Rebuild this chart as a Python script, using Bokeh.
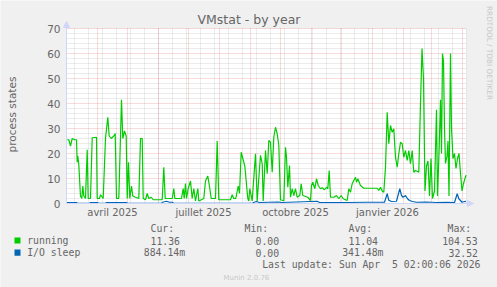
import math
import pandas as pd
from bokeh.plotting import figure
from bokeh.models import (Range1d, LinearAxis, FixedTicker, Label, BoxAnnotation,
                          Arrow, NormalHead)
from bokeh.embed import file_html
from bokeh.resources import INLINE

# ---------------- data ----------------
start_date = "2025-03-01"
end_date = "2026-04-05"

# day offsets from start_date
running_day = [0.7, 2.3, 4, 5.7, 8, 10, 10.7, 11.3, 12.3, 14, 15.3, 16.3, 17.3, 19, 20.7, 21.7, 24,
               25.7, 30, 30.7, 33, 34, 36.7, 39, 41.3, 42.7, 44.7, 47.3, 48.7, 50, 52.3, 55, 56.3,
               58, 59.7, 60.7, 62, 63.3, 65, 66.3, 69, 72.3, 74, 75.7, 76.7, 79, 80.7, 82.3, 84.7,
               86.7, 95.7, 97.3, 98.7, 105.7, 107.3, 108.3, 115, 116.7, 117.7, 119, 120, 121.7,
               124, 125.7, 127.3, 129, 131.3, 132.3, 137.3, 139, 141.3, 143.3, 144.7, 149, 150.7,
               152.3, 164, 165.7, 167.3, 169.3, 171.7, 173, 174.7, 176.3, 178.3, 181.3, 182.3,
               183.3, 185.7, 189, 190.7, 192.3, 194, 195.7, 196.7, 199, 200.7, 202.3, 204, 205.7,
               207.3, 209, 210.7, 212.3, 214, 217.3, 219, 220, 221.3, 223, 224, 225.7, 227.3, 229,
               230.7, 233.3, 234.7, 236.3, 241.3, 244, 245, 246.3, 248.3, 250, 251.7, 254, 255.7,
               258, 260, 261.3, 262.7, 264, 267.3, 270, 272.3, 274.7, 276.7, 280.7, 282.3, 284,
               285.7, 287.3, 289, 290, 291.3, 294, 297.3, 310.7, 312.3, 314, 315.7, 317.3, 319,
               320.7, 322.3, 324, 325.7, 327.3, 329, 330.7, 332.3, 334, 335.7, 337.3, 339, 340.7,
               342.3, 344, 345.7, 347.3, 349, 352.3, 354, 355.5, 357, 358.5, 360, 361.5, 363,
               364.5, 366, 368, 370, 371, 372.5, 374, 375, 376, 377, 378, 379, 380.5, 381.5, 382.5,
               384, 385, 386.5, 388, 389.5, 391, 392.5, 394, 395.5, 397, 399.5]
running = [25.5, 25.5, 23, 26, 25.5, 25.5, 16.5, 19, 15.5, 3, 2, 7, 3, 2, 21.5, 2, 2,
           26.3, 26.5, 2, 2, 3.5, 2, 26, 34.5, 27, 26, 27, 28, 2, 2, 41.5, 26,
           29, 27, 2, 16.5, 2, 7, 3, 2.5, 2, 26, 26, 2, 1.5, 4, 2, 2.5,
           1.5, 1.5, 14.5, 2, 2, 6, 2, 2, 6, 2, 8, 2, 6,
           9, 2, 6, 1, 6, 1, 2, 9, 11, 6, 2, 2, 25,
           1.5, 1.5, 3.5, 2, 2, 7, 4, 20.5, 18, 15, 2, 1,
           6, 1, 19.9, 1, 10, 19.3, 15.9, 1, 21.2, 11.9, 25.2, 24.5, 12.5,
           26.5, 30.5, 27.9, 23.3, 1.5, 1.1, 22.5, 18.5, 6.5, 15.2, 2.5, 5.9, 3.2, 5.9,
           2.5, 3.2, 7.9, 3.2, 2.5, 1.2, 7.2, 8.5, 5.9, 9.9, 7.2, 5.9, 6.3,
           5.5, 6.5, 5.9, 13.2, 2.5, 2.5, 3.2, 1.9, 3.2, 1.9, 1.2, 5.9, 4.5,
           7.9, 9.2, 10.5, 8.5, 9.9, 7.2, 6.1, 6.1, 5.2, 6.5, 5, 4.5, 14.5,
           36.5, 23.9, 31.2, 28.5, 29.9, 18.5, 14.5, 19.9, 24.5, 23.9, 18.5, 21.2, 17.2,
           21.2, 15.9, 21.2, 12.5, 13.2, 12.5, 40, 62, 50, 5, 15, 17, 3,
           18, 2, 5, 37.5, 3, 20, 41.5, 20, 60, 57, 30, 16, 19, 25, 3,
           60, 30, 18, 20, 14, 18, 20, 12, 5, 8, 11.36]

io_day = [0, 10, 11, 23, 24, 31, 32, 39, 40, 60, 61, 95, 96, 100, 103, 106, 107, 186, 187,
          190, 193, 212, 215, 250.7, 253, 280, 300, 318, 320.7, 322.3, 325, 330, 333.3, 335,
          336.5, 339, 341, 343, 346, 350, 360, 370, 380, 388, 390.7, 392.3, 394, 395.5, 397,
          399.5]
io_sleep = [0.4, 0.4, 0.05, 0.05, 0.4, 0.4, 0.05, 0.05, 0.4, 0.4, 0.05, 0.05, 0.5, 0.9, 0.5,
            0.5, 0.05, 0.05, 0.4, 0.8, 0.4, 0.6, 0.4, 0.9, 0.4, 0.4, 0.5, 0.5, 3.9, 1.3, 0.8,
            0.9, 5.9, 3.2, 2.5, 3.2, 1.9, 1.2, 0.8, 0.5, 0.6, 0.4, 0.5, 0.4, 3.9, 1.9, 1.2, 0.5,
            0.7, 0.884]

y_ticks = [0, 10, 20, 30, 40, 50, 60, 70]
x_label_dates = ["2025-04-16", "2025-07-16", "2025-10-16", "2026-01-16"]
x_labels = ["avril 2025", "juillet 2025", "octobre 2025", "janvier 2026"]

series_names = ["running", "I/O sleep"]
series_colors = ["#00CC00", "#0066B3"]
cur_vals = ["11.36", "884.14m"]
min_vals = ["0.00", "0.00"]
avg_vals = ["11.04", "341.48m"]
max_vals = ["104.53", "32.52"]

title_text = "VMstat - by year"
y_title = "process states"
# second space is a no-break space so the SVG keeps the double gap
last_update = "Last update: Sun Apr \u00a05 02:00:06 2026"

# ---------------- layout helpers ----------------
t0 = pd.Timestamp(start_date)
def day_of(d):
    return (pd.Timestamp(d) - t0).days

span = day_of(end_date)           # 400 days
y_top = y_ticks[-1]

W, H = 497, 287
LEFT_PX, ZERO_PX, PX_PER_UNIT = 66, 203, 2.5   # plot area placement in the page

def X(px):   # page x pixel -> data x (days)
    return px - LEFT_PX

def Y(py):   # page y pixel -> data y
    return (ZERO_PX - py) / PX_PER_UNIT

FONT = "#666666"
AXIS = "#CFD6F8"

p = figure(width=W, height=H, output_backend="svg", toolbar_location=None,
           x_range=Range1d(X(0), X(W)), y_range=Range1d(Y(H), Y(0)),
           x_axis_type=None, y_axis_type=None, title=None, min_border=0)
p.background_fill_color = "#F0F0F0"
p.border_fill_color = "#F0F0F0"
p.outline_line_color = None

# white canvas
p.add_layout(BoxAnnotation(left=0, right=span, bottom=0, top=y_top, fill_color="white",
                           fill_alpha=1, line_color=None, level="underlay"))

# grid lines
minor_v = [day_of(d) for d in pd.date_range("2025-03-09", end_date, freq="14D")]
major_v = [day_of(d) for d in pd.date_range("2025-04-01", end_date, freq="MS")]
minor_h = [v for v in range(2, y_top + 1, 2) if v % 10]
major_h = [v for v in y_ticks if v > 0]

GRID = "#8F8F8F"
MGRID = "#DE4F4F"
p.segment(x0=minor_v, x1=minor_v, y0=[0] * len(minor_v), y1=[y_top] * len(minor_v),
          line_color=GRID, line_alpha=0.35, line_width=1, line_dash="1 1")
p.segment(x0=[0] * len(minor_h), x1=[span] * len(minor_h), y0=minor_h, y1=minor_h,
          line_color=GRID, line_alpha=0.35, line_width=1, line_dash="1 1")
p.segment(x0=major_v, x1=major_v, y0=[0] * len(major_v), y1=[y_top] * len(major_v),
          line_color=MGRID, line_alpha=0.4, line_width=1, line_dash="1 1")
p.segment(x0=[0] * len(major_h), x1=[span] * len(major_h), y0=major_h, y1=major_h,
          line_color=MGRID, line_alpha=0.4, line_width=1, line_dash="1 1")

# data
p.line(running_day, running, line_color=series_colors[0], line_width=1.2)
p.line(io_day, io_sleep, line_color=series_colors[1], line_width=1.2)

# axis lines with arrows
p.add_layout(Arrow(x_start=0, y_start=0, x_end=X(473), y_end=0, line_color=AXIS, line_width=1,
                   end=NormalHead(size=6, fill_color=AXIS, line_color=AXIS)))
p.add_layout(Arrow(x_start=0, y_start=0, x_end=0, y_end=Y(21), line_color=AXIS, line_width=1,
                   end=NormalHead(size=6, fill_color=AXIS, line_color=AXIS)))

# tick labels (axes pinned at the plot origin)
yax = LinearAxis(fixed_location=0, ticker=FixedTicker(ticks=y_ticks), axis_line_color=None,
                 major_tick_line_color=None, minor_tick_line_color=None,
                 major_tick_out=0, major_tick_in=0, minor_tick_out=0, minor_tick_in=0,
                 major_label_standoff=6, major_label_text_font_size="10.5px",
                 major_label_text_color=FONT, major_label_text_font="DejaVu Sans")
p.add_layout(yax, "left")
label_days = [day_of(d) for d in x_label_dates]
xax = LinearAxis(fixed_location=0, ticker=FixedTicker(ticks=label_days), axis_line_color=None,
                 major_tick_line_color=None, minor_tick_line_color=None,
                 major_tick_out=0, major_tick_in=0, minor_tick_out=0, minor_tick_in=0,
                 major_label_overrides={d: t for d, t in zip(label_days, x_labels)},
                 major_label_standoff=3, major_label_text_font_size="10px",
                 major_label_text_color=FONT, major_label_text_font="DejaVu Sans")
p.add_layout(xax, "below")

def page_label(px, py, text, size, font="DejaVu Sans", color=FONT, align="left", angle=0):
    p.add_layout(Label(x=X(px), y=Y(py), text=text, text_font=font, text_font_size=size,
                       text_color=color, text_align=align, text_baseline="middle",
                       angle=angle))

page_label(248.5, 19, title_text, "12.5px", align="center")
page_label(11.2, 114, y_title, "10.5px", align="center", angle=math.pi / 2)
page_label(488.5, 52.5, "RRDTOOL / TOBI OETIKER", "7.3px", color="#C8C8C8",
           align="center", angle=-math.pi / 2)
page_label(223, 277, "Munin 2.0.76", "7px", color="#C8C8C8")

MONO = "DejaVu Sans Mono"
LS = "9.8px"
head_y = 227.6
page_label(150, head_y, "Cur:", LS, font=MONO)
page_label(244, head_y, "Min:", LS, font=MONO)
page_label(348, head_y, "Avg:", LS, font=MONO)
page_label(447, head_y, "Max:", LS, font=MONO)

row_y = [240.2, 252.4]
cur_x = [150, 143.3]
avg_x = [348, 341.7]
max_x = [441.7, 448]
for i, name in enumerate(series_names):
    cy = row_y[i]
    p.add_layout(BoxAnnotation(left=X(14), right=X(20), top=Y(cy - 3.3), bottom=Y(cy + 2.9),
                               fill_color=series_colors[i], fill_alpha=1, line_color=None))
    page_label(26.7, cy, name, LS, font=MONO)
    page_label(cur_x[i], cy, cur_vals[i], LS, font=MONO)
    page_label(255, cy, min_vals[i], LS, font=MONO)
    page_label(avg_x[i], cy, avg_vals[i], LS, font=MONO)
    page_label(max_x[i], cy, max_vals[i], LS, font=MONO)

page_label(261.7, 264, last_update, LS, font=MONO)

open("out.html", "w").write(file_html(p, INLINE))
